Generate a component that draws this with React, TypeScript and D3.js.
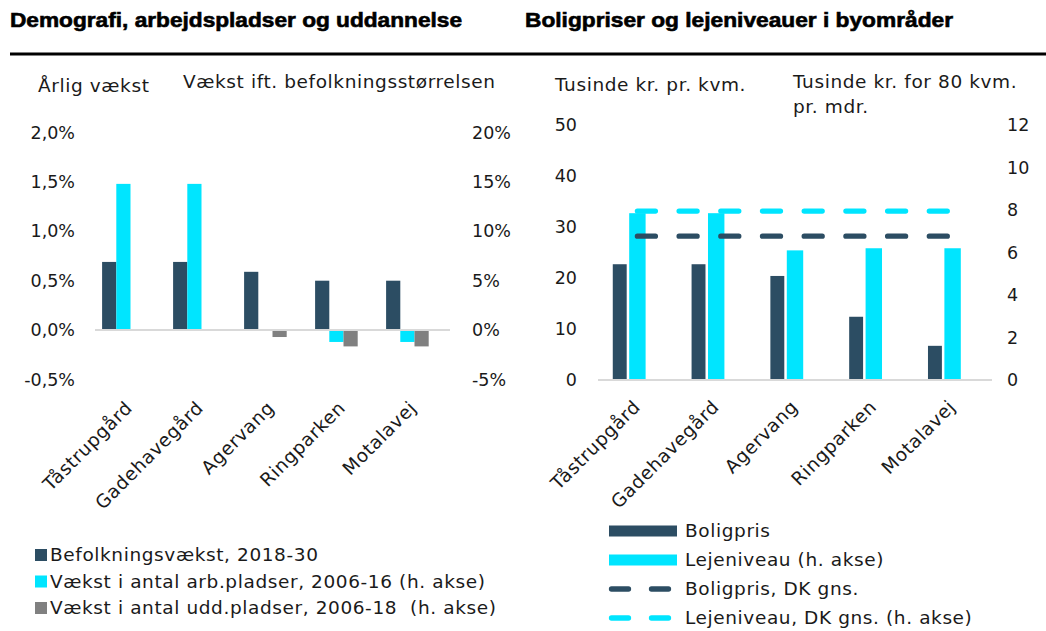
import React from 'react';
import * as d3 from 'd3';

const categories = ['Tåstrupgård', 'Gadehavegård', 'Agervang', 'Ringparken', 'Motalavej'];

// Left chart (percent)
const befolkningsvaekst = [0.69, 0.69, 0.59, 0.5, 0.5]; // left axis, %
const arbPladser = [14.8, 14.8, 0.1, -1.2, -1.2]; // right axis, %
const uddPladser: (number | null)[] = [null, null, -0.7, -1.65, -1.65]; // right axis, %
const leftTicksL = [-0.5, 0, 0.5, 1, 1.5, 2];
const leftTicksR = [-5, 0, 5, 10, 15, 20];

// Right chart
const boligpris = [22.7, 22.7, 20.4, 12.4, 6.7]; // left axis
const lejeniveau = [7.85, 7.85, 6.1, 6.2, 6.2]; // right axis
const boligprisDK = 28.2;
const lejeniveauDK = 7.95;
const rightTicksL = [0, 10, 20, 30, 40, 50];
const rightTicksR = [0, 2, 4, 6, 8, 10, 12];

const DARK = '#2C4D63';
const CYAN = '#00E5FF';
const GREY = '#808080';
const AXIS = '#D9D9D9';
const FONT = '"DejaVu Sans", sans-serif';
const TXT = '#1a1a1a';
const FS = 18.5;
const LS = 0.6;

const fixMinus = (s: string) => s.replace('\u2212', '-');
const fmtPct1 = (v: number) => fixMinus(d3.format('.1f')(v)).replace('.', ',') + '%';
const fmtPct0 = (v: number) => fixMinus(d3.format('d')(v)) + '%';

export default function App() {
  // ---------- left chart scales ----------
  const xL = d3.scaleBand<string>().domain(categories).range([95, 450]);
  const subL = d3.scaleBand<string>().domain(['bef', 'arb', 'udd', 'x']).range([0, xL.bandwidth()]).paddingOuter(0.5);
  const yLL = d3.scaleLinear().domain([-0.5, 2]).range([379.5, 132.5]);
  const yLR = d3.scaleLinear().domain([-5, 20]).range([379.5, 132.5]);

  // ---------- right chart scales ----------
  const xR = d3.scaleBand<string>().domain(categories).range([598, 992]);
  const subR = d3.scaleBand<string>().domain(['bolig', 'leje', 'x']).range([0, xR.bandwidth()]).paddingOuter(0.9);
  const yRL = d3.scaleLinear().domain([0, 50]).range([380, 125]);
  const yRR = d3.scaleLinear().domain([0, 12]).range([380, 125]);

  const barRect = (x: number, w: number, y0: number, y1: number, fill: string, key: string) => (
    <rect key={key} x={x} width={w} y={Math.min(y0, y1)} height={Math.abs(y1 - y0)} fill={fill} />
  );

  const dashLine = (v: number, scale: d3.ScaleLinear<number, number>, color: string) => {
    const line = d3.line<string>().x((c) => (xR(c) as number) + xR.bandwidth() / 2).y(() => scale(v));
    return (
      <path d={line(categories) as string} fill="none" stroke={color} strokeWidth={5.3}
        strokeLinecap="round" strokeDasharray="18 23.7" />
    );
  };

  return (
    <svg width={1046} height={631} style={{ position: 'absolute', left: 0, top: 0, background: '#fff' }}
      fontFamily={FONT} letterSpacing={LS}>
      {/* Titles */}
      <text x={10} y={27} fontFamily='"Liberation Sans", Arial, sans-serif' fontWeight="bold" fontSize={20}
        stroke="#000" strokeWidth={0.6} fill="#000" letterSpacing={0} textLength={452} lengthAdjust="spacingAndGlyphs">
        Demografi, arbejdspladser og uddannelse
      </text>
      <text x={525} y={27} fontFamily='"Liberation Sans", Arial, sans-serif' fontWeight="bold" fontSize={20}
        stroke="#000" strokeWidth={0.6} fill="#000" letterSpacing={0} textLength={428} lengthAdjust="spacingAndGlyphs">
        Boligpriser og lejeniveauer i byområder
      </text>
      <line x1={10} x2={1046} y1={54} y2={54} stroke="#000" strokeWidth={3} />

      {/* ================= LEFT CHART ================= */}
      <text x={38} y={92} fontSize={FS} fill={TXT}>Årlig vækst</text>
      <text x={183} y={88} fontSize={FS} fill={TXT}>Vækst ift. befolkningsstørrelsen</text>

      {leftTicksL.map((t) => (
        <text key={'ll' + t} x={75} y={yLL(t)} dy="0.35em" textAnchor="end" fontSize={17.5} letterSpacing={0} fill={TXT}>
          {fmtPct1(t)}
        </text>
      ))}
      {leftTicksR.map((t) => (
        <text key={'lr' + t} x={472} y={yLR(t)} dy="0.35em" textAnchor="start" fontSize={17.5} letterSpacing={0} fill={TXT}>
          {fmtPct0(t)}
        </text>
      ))}

      {categories.map((c, i) => {
        const x0 = xL(c) as number;
        const w = subL.bandwidth();
        const els = [
          barRect(x0 + (subL('bef') as number), w, yLL(0), yLL(befolkningsvaekst[i]), DARK, 'b' + i),
          barRect(x0 + (subL('arb') as number), w, yLR(0), yLR(arbPladser[i]), CYAN, 'a' + i),
        ];
        const u = uddPladser[i];
        if (u !== null) els.push(barRect(x0 + (subL('udd') as number), w, yLR(0), yLR(u), GREY, 'u' + i));
        return <g key={c}>{els}</g>;
      })}
      <line x1={95} x2={450} y1={yLL(0)} y2={yLL(0)} stroke={AXIS} strokeWidth={2} />

      {categories.map((c) => {
        const cx = (xL(c) as number) + xL.bandwidth() / 2;
        return (
          <text key={'xl' + c} transform={`translate(${cx + 3},${409}) rotate(-45)`} textAnchor="end"
            fontSize={FS} fill={TXT}>
            {c}
          </text>
        );
      })}

      {/* left legend */}
      {[
        { label: 'Befolkningsvækst, 2018-30', color: DARK },
        { label: 'Vækst i antal arb.pladser, 2006-16 (h. akse)', color: CYAN },
        { label: 'Vækst i antal udd.pladser, 2006-18  (h. akse)', color: GREY },
      ].map((d, i) => (
        <g key={d.label} transform={`translate(0,${555 + i * 26.5})`}>
          <rect x={35} y={-6} width={12} height={12} fill={d.color} />
          <text x={50} y={0} dy="0.35em" fontSize={FS} fill={TXT} style={{ whiteSpace: 'pre' }}>
            {d.label}
          </text>
        </g>
      ))}

      {/* ================= RIGHT CHART ================= */}
      <text x={555} y={91} fontSize={FS} fill={TXT}>Tusinde kr. pr. kvm.</text>
      <text x={793} y={88} fontSize={FS} fill={TXT}>Tusinde kr. for 80 kvm.</text>
      <text x={793} y={113} fontSize={FS} fill={TXT}>pr. mdr.</text>

      {rightTicksL.map((t) => (
        <text key={'rl' + t} x={577} y={yRL(t)} dy="0.35em" textAnchor="end" fontSize={17.5} letterSpacing={0} fill={TXT}>
          {t}
        </text>
      ))}
      {rightTicksR.map((t) => (
        <text key={'rr' + t} x={1007} y={yRR(t)} dy="0.35em" textAnchor="start" fontSize={17.5} letterSpacing={0} fill={TXT}>
          {t}
        </text>
      ))}

      {categories.map((c, i) => {
        const x0 = xR(c) as number;
        const w = subR.bandwidth();
        return (
          <g key={'r' + c}>
            {barRect(x0 + (subR('bolig') as number), w - 2.5, yRL(0), yRL(boligpris[i]), DARK, 'rb' + i)}
            {barRect(x0 + (subR('leje') as number), w, yRR(0), yRR(lejeniveau[i]), CYAN, 'rl' + i)}
          </g>
        );
      })}
      <line x1={598} x2={992} y1={yRL(0)} y2={yRL(0)} stroke={AXIS} strokeWidth={2} />
      {dashLine(lejeniveauDK, yRR, CYAN)}
      {dashLine(boligprisDK, yRL, DARK)}

      {categories.map((c) => {
        const cx = (xR(c) as number) + xR.bandwidth() / 2;
        return (
          <text key={'xr' + c} transform={`translate(${cx + 4},${408}) rotate(-45)`} textAnchor="end"
            fontSize={FS} fill={TXT}>
            {c}
          </text>
        );
      })}

      {/* right legend */}
      {[
        { label: 'Boligpris', color: DARK, dashed: false },
        { label: 'Lejeniveau (h. akse)', color: CYAN, dashed: false },
        { label: 'Boligpris, DK gns.', color: DARK, dashed: true },
        { label: 'Lejeniveau, DK gns. (h. akse)', color: CYAN, dashed: true },
      ].map((d, i) => (
        <g key={d.label} transform={`translate(0,${531 + i * 29})`}>
          {d.dashed ? (
            <line x1={611.5} x2={674} y1={0} y2={0} stroke={d.color} strokeWidth={5.3} strokeLinecap="round"
              strokeDasharray="17 23" />
          ) : (
            <rect x={609} y={-5.5} width={68} height={11} fill={d.color} />
          )}
          <text x={685} y={0} dy="0.35em" fontSize={FS} fill={TXT}>
            {d.label}
          </text>
        </g>
      ))}
    </svg>
  );
}
